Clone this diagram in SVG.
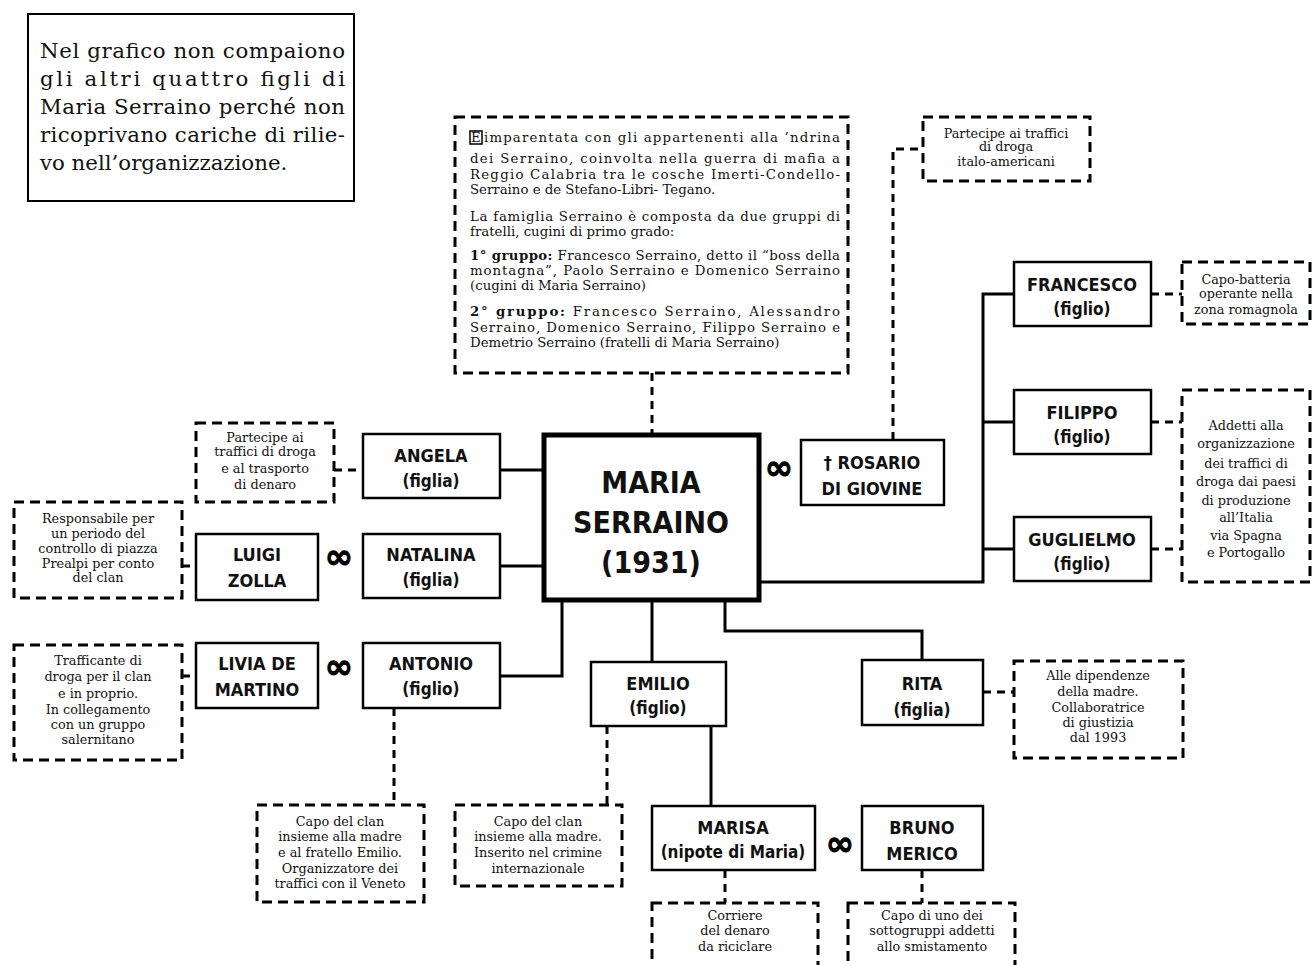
<svg xmlns="http://www.w3.org/2000/svg" width="1312" height="965" viewBox="0 0 1312 965">
<style>
.bg{fill:#fff}
.node{fill:#fff;stroke:#000;stroke-width:2.5}
.main{fill:#fff;stroke:#000;stroke-width:5}
.note{fill:#fff;stroke:#000;stroke-width:3;stroke-dasharray:10 6}
.plain{fill:#fff;stroke:#000;stroke-width:2}
.solid{fill:none;stroke:#000;stroke-width:3}
.dash{fill:none;stroke:#000;stroke-width:3;stroke-dasharray:8 6}
.nt{font-family:"DejaVu Sans Condensed","DejaVu Sans",sans-serif;font-weight:bold;font-stretch:condensed;font-size:18px;fill:#111;text-anchor:middle}
.sub{font-size:17px}
.big{font-family:"DejaVu Sans Condensed","DejaVu Sans",sans-serif;font-weight:bold;font-stretch:condensed;font-size:30px;fill:#111;text-anchor:middle}
.inf{font-family:"DejaVu Sans",sans-serif;font-weight:bold;font-size:34px;fill:#000;stroke:#000;stroke-width:1;text-anchor:middle}
.s{font-family:"DejaVu Serif","Liberation Serif",serif;font-size:12.8px;fill:#111;text-anchor:middle}
.p{font-family:"DejaVu Serif","Liberation Serif",serif;font-size:13.3px;fill:#111}
.b{font-weight:bold}
.top{font-family:"DejaVu Serif","Liberation Serif",serif;font-size:21.3px;fill:#111}
</style>
<rect class="bg" x="0" y="0" width="1312" height="965"/>

<g id="connectors">
  <path class="solid" d="M500 470H544"/>
  <path class="solid" d="M500 566H544"/>
  <path class="solid" d="M500 676H562V600"/>
  <path class="solid" d="M652 600V662"/>
  <path class="solid" d="M725 600V631H922V660"/>
  <path class="solid" d="M759 582H983V294H1014"/>
  <path class="solid" d="M983 422H1014"/>
  <path class="solid" d="M983 549H1014"/>
  <path class="solid" d="M711 726V806"/>
  <path class="dash" d="M652 373V437"/>
  <path class="dash" d="M893 440V149H923"/>
  <path class="dash" d="M334 470H363"/>
  <path class="dash" d="M182 566H196"/>
  <path class="dash" d="M182 676H196"/>
  <path class="dash" d="M394 708V805"/>
  <path class="dash" d="M607 726V805"/>
  <path class="dash" d="M725 870V903"/>
  <path class="dash" d="M922 870V903"/>
  <path class="dash" d="M983 692H1014"/>
  <path class="dash" d="M1151 294H1182"/>
  <path class="dash" d="M1151 422H1182"/>
  <path class="dash" d="M1151 549H1182"/>
</g>

<g id="note-top-left">
  <rect class="plain" x="28" y="14" width="326" height="187"/>
  <text class="top" x="40" y="58" textLength="305" lengthAdjust="spacing">Nel grafico non compaiono</text>
  <text class="top" x="40" y="86" textLength="305" lengthAdjust="spacing">gli altri quattro figli di</text>
  <text class="top" x="40" y="114" textLength="305" lengthAdjust="spacing">Maria Serraino perché non</text>
  <text class="top" x="40" y="142" textLength="305" lengthAdjust="spacing">ricoprivano cariche di rilie-</text>
  <text class="top" x="40" y="170">vo nell’organizzazione.</text>
</g>

<g id="note-serraino">
  <rect class="note" x="455" y="117" width="393" height="256"/>
  <rect x="470" y="131" width="12" height="13" fill="#fff" stroke="#000" stroke-width="1.5"/>
  <text class="p" x="471" y="142">È</text>
  <text class="p" x="484" y="142" textLength="356" lengthAdjust="spacing">imparentata con gli appartenenti alla ’ndrina</text>
  <text class="p" x="470" y="163" textLength="370" lengthAdjust="spacing">dei Serraino, coinvolta nella guerra di mafia a</text>
  <text class="p" x="470" y="179" textLength="370" lengthAdjust="spacing">Reggio Calabria tra le cosche Imerti-Condello-</text>
  <text class="p" x="470" y="194">Serraino e de Stefano-Libri- Tegano.</text>
  <text class="p" x="470" y="221" textLength="370" lengthAdjust="spacing">La famiglia Serraino è composta da due gruppi di</text>
  <text class="p" x="470" y="236">fratelli, cugini di primo grado:</text>
  <text class="p" x="470" y="260" textLength="370" lengthAdjust="spacing"><tspan class="b">1° gruppo:</tspan> Francesco Serraino, detto il “boss della</text>
  <text class="p" x="470" y="275" textLength="370" lengthAdjust="spacing">montagna”, Paolo Serraino e Domenico Serraino</text>
  <text class="p" x="470" y="290">(cugini di Maria Serraino)</text>
  <text class="p" x="470" y="316" textLength="370" lengthAdjust="spacing"><tspan class="b">2° gruppo:</tspan> Francesco Serraino, Alessandro</text>
  <text class="p" x="470" y="332" textLength="370" lengthAdjust="spacing">Serraino, Domenico Serraino, Filippo Serraino e</text>
  <text class="p" x="470" y="347">Demetrio Serraino (fratelli di Maria Serraino)</text>
</g>

<g id="maria">
  <rect class="main" x="544" y="435" width="215" height="165"/>
  <text class="big" x="651" y="493">MARIA</text>
  <text class="big" x="651" y="533">SERRAINO</text>
  <text class="big" x="651" y="573">(1931)</text>
</g>
<text class="inf" x="779" y="479">∞</text>

<g id="rosario">
  <rect class="node" x="801" y="440" width="143" height="65"/>
  <text class="nt" x="872" y="469">† ROSARIO</text>
  <text class="nt" x="872" y="495">DI GIOVINE</text>
</g>
<g id="note-rosario">
  <rect class="note" x="923" y="117" width="167" height="64"/>
  <text class="s" x="1006" y="138">Partecipe ai traffici</text>
  <text class="s" x="1006" y="151">di droga</text>
  <text class="s" x="1006" y="166">italo-americani</text>
</g>

<g id="francesco">
  <rect class="node" x="1014" y="262" width="137" height="64"/>
  <text class="nt" x="1082" y="291">FRANCESCO</text>
  <text class="nt sub" x="1082" y="315">(figlio)</text>
</g>
<g id="note-francesco">
  <rect class="note" x="1182" y="262" width="128" height="62"/>
  <text class="s" x="1246" y="284">Capo-batteria</text>
  <text class="s" x="1246" y="298">operante nella</text>
  <text class="s" x="1246" y="314">zona romagnola</text>
</g>
<g id="filippo">
  <rect class="node" x="1014" y="390" width="137" height="64"/>
  <text class="nt" x="1082" y="419">FILIPPO</text>
  <text class="nt sub" x="1082" y="443">(figlio)</text>
</g>
<g id="guglielmo">
  <rect class="node" x="1014" y="517" width="137" height="64"/>
  <text class="nt" x="1082" y="546">GUGLIELMO</text>
  <text class="nt sub" x="1082" y="570">(figlio)</text>
</g>
<g id="note-filippo-guglielmo">
  <rect class="note" x="1182" y="390" width="128" height="192"/>
  <text class="s" x="1246" y="430">Addetti alla</text>
  <text class="s" x="1246" y="448">organizzazione</text>
  <text class="s" x="1246" y="468">dei traffici di</text>
  <text class="s" x="1246" y="486">droga dai paesi</text>
  <text class="s" x="1246" y="505">di produzione</text>
  <text class="s" x="1246" y="522">all’Italia</text>
  <text class="s" x="1246" y="540">via Spagna</text>
  <text class="s" x="1246" y="557">e Portogallo</text>
</g>

<g id="angela">
  <rect class="node" x="363" y="434" width="137" height="64"/>
  <text class="nt" x="431" y="462">ANGELA</text>
  <text class="nt sub" x="431" y="487">(figlia)</text>
</g>
<g id="note-angela">
  <rect class="note" x="196" y="423" width="138" height="79"/>
  <text class="s" x="265" y="442">Partecipe ai</text>
  <text class="s" x="265" y="456">traffici di droga</text>
  <text class="s" x="265" y="473">e al trasporto</text>
  <text class="s" x="265" y="489">di denaro</text>
</g>

<g id="natalina">
  <rect class="node" x="363" y="534" width="137" height="64"/>
  <text class="nt" x="431" y="561">NATALINA</text>
  <text class="nt sub" x="431" y="586">(figlia)</text>
</g>
<text class="inf" x="339" y="568">∞</text>
<g id="luigi">
  <rect class="node" x="196" y="534" width="122" height="66"/>
  <text class="nt" x="257" y="561">LUIGI</text>
  <text class="nt" x="257" y="587">ZOLLA</text>
</g>
<g id="note-luigi">
  <rect class="note" x="14" y="502" width="168" height="96"/>
  <text class="s" x="98" y="523">Responsabile per</text>
  <text class="s" x="98" y="538">un periodo del</text>
  <text class="s" x="98" y="553">controllo di piazza</text>
  <text class="s" x="98" y="568">Prealpi per conto</text>
  <text class="s" x="98" y="582">del clan</text>
</g>

<g id="antonio">
  <rect class="node" x="363" y="643" width="137" height="65"/>
  <text class="nt" x="431" y="670">ANTONIO</text>
  <text class="nt sub" x="431" y="695">(figlio)</text>
</g>
<text class="inf" x="339" y="678">∞</text>
<g id="livia">
  <rect class="node" x="196" y="643" width="122" height="65"/>
  <text class="nt" x="257" y="670">LIVIA DE</text>
  <text class="nt" x="257" y="696">MARTINO</text>
</g>
<g id="note-livia">
  <rect class="note" x="14" y="645" width="168" height="115"/>
  <text class="s" x="98" y="665">Trafficante di</text>
  <text class="s" x="98" y="681">droga per il clan</text>
  <text class="s" x="98" y="698">e in proprio.</text>
  <text class="s" x="98" y="714">In collegamento</text>
  <text class="s" x="98" y="729">con un gruppo</text>
  <text class="s" x="98" y="744">salernitano</text>
</g>
<g id="note-antonio">
  <rect class="note" x="257" y="805" width="167" height="97"/>
  <text class="s" x="340" y="826">Capo del clan</text>
  <text class="s" x="340" y="841">insieme alla madre</text>
  <text class="s" x="340" y="857">e al fratello Emilio.</text>
  <text class="s" x="340" y="873">Organizzatore dei</text>
  <text class="s" x="340" y="888">traffici con il Veneto</text>
</g>

<g id="emilio">
  <rect class="node" x="591" y="662" width="135" height="64"/>
  <text class="nt" x="658" y="690">EMILIO</text>
  <text class="nt sub" x="658" y="714">(figlio)</text>
</g>
<g id="note-emilio">
  <rect class="note" x="455" y="805" width="167" height="81"/>
  <text class="s" x="538" y="826">Capo del clan</text>
  <text class="s" x="538" y="841">insieme alla madre.</text>
  <text class="s" x="538" y="857">Inserito nel crimine</text>
  <text class="s" x="538" y="873">internazionale</text>
</g>

<g id="rita">
  <rect class="node" x="862" y="660" width="121" height="65"/>
  <text class="nt" x="922" y="690">RITA</text>
  <text class="nt sub" x="922" y="716">(figlia)</text>
</g>
<g id="note-rita">
  <rect class="note" x="1014" y="661" width="169" height="97"/>
  <text class="s" x="1098" y="680">Alle dipendenze</text>
  <text class="s" x="1098" y="696">della madre.</text>
  <text class="s" x="1098" y="712">Collaboratrice</text>
  <text class="s" x="1098" y="727">di giustizia</text>
  <text class="s" x="1098" y="742">dal 1993</text>
</g>

<g id="marisa">
  <rect class="node" x="652" y="806" width="163" height="64"/>
  <text class="nt" x="733" y="834">MARISA</text>
  <text class="nt sub" x="733" y="858">(nipote di Maria)</text>
</g>
<text class="inf" x="840" y="855">∞</text>
<g id="bruno">
  <rect class="node" x="862" y="806" width="121" height="64"/>
  <text class="nt" x="922" y="834">BRUNO</text>
  <text class="nt" x="922" y="860">MERICO</text>
</g>
<g id="note-marisa">
  <rect class="note" x="652" y="903" width="166" height="70"/>
  <text class="s" x="735" y="920">Corriere</text>
  <text class="s" x="735" y="935">del denaro</text>
  <text class="s" x="735" y="951">da riciclare</text>
</g>
<g id="note-bruno">
  <rect class="note" x="848" y="903" width="167" height="70"/>
  <text class="s" x="932" y="920">Capo di uno dei</text>
  <text class="s" x="932" y="935">sottogruppi addetti</text>
  <text class="s" x="932" y="951">allo smistamento</text>
</g>
</svg>
